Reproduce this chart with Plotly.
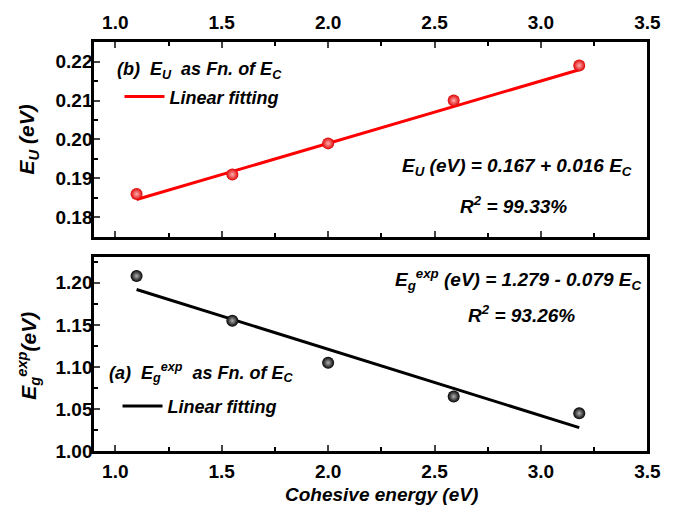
import plotly.graph_objects as go
from plotly.subplots import make_subplots

# Data
ec = [1.10, 1.55, 2.00, 2.59, 3.18]
eu = [0.186, 0.191, 0.199, 0.210, 0.219]
eg = [1.208, 1.155, 1.105, 1.065, 1.045]
fit_x = [1.10, 3.18]
eu_fit = [0.1846, 0.2179]
eg_fit = [1.192, 1.028]

x_ticks = [1.0, 1.5, 2.0, 2.5, 3.0, 3.5]
eu_ticks = [0.18, 0.19, 0.20, 0.21, 0.22]
eg_ticks = [1.00, 1.05, 1.10, 1.15, 1.20]

W, H = 678, 520


def fx(p):
    return p / W


def fy(p):
    return 1 - p / H


FONT = "Liberation Sans, Arial, sans-serif"
tickfont = dict(family=FONT, size=19, color="black", weight="bold")
bifont = dict(family=FONT, size=19, color="black", weight="bold", style="italic")

fig = make_subplots(rows=2, cols=1)

fig.add_trace(go.Scatter(x=fit_x, y=eu_fit, mode="lines", name="Linear fitting",
                         line=dict(color="#ff0000", width=3), legend="legend"), row=1, col=1)
fig.add_trace(go.Scatter(x=ec, y=eu, mode="markers", showlegend=False,
                         marker=dict(size=12, color="#e00000", line=dict(width=0),
                                     gradient=dict(type="radial", color="#ffb0b0"))), row=1, col=1)
fig.add_trace(go.Scatter(x=fit_x, y=eg_fit, mode="lines", name="Linear fitting",
                         line=dict(color="black", width=3), legend="legend2"), row=2, col=1)
fig.add_trace(go.Scatter(x=ec, y=eg, mode="markers", showlegend=False,
                         marker=dict(size=12, color="#000000", line=dict(width=0),
                                     gradient=dict(type="radial", color="#b0b0b0"))), row=2, col=1)

common_x = dict(range=[0.9, 3.5], tickvals=x_ticks, tickformat=".1f", ticks="inside",
                ticklen=6, tickwidth=2, linecolor="black", linewidth=2.5, showgrid=False,
                zeroline=False, tickfont=tickfont, domain=[fx(96), fx(661)],
                minor=dict(dtick=0.25, ticks="inside", ticklen=4, tickwidth=2, tickcolor="black"))
fig.update_xaxes(**common_x, side="top", mirror="ticks", ticklabelstandoff=3, row=1, col=1)
fig.update_xaxes(**common_x, side="bottom", mirror=True, ticklabelstandoff=1, row=2, col=1)

common_y = dict(ticks="inside", ticklen=6, tickwidth=2, linecolor="black", linewidth=2.5,
                showgrid=False, zeroline=False, tickfont=tickfont, mirror=True, tickformat=".2f",
                ticklabelstandoff=-5)
fig.update_yaxes(**common_y, range=[0.175, 0.225], tickvals=eu_ticks,
                 minor=dict(dtick=0.005, ticks="inside", ticklen=4, tickwidth=2, tickcolor="black"),
                 domain=[fy(242), fy(43)], row=1, col=1)
fig.update_yaxes(**common_y, range=[1.0, 1.23], tickvals=eg_ticks,
                 minor=dict(dtick=0.025, ticks="inside", ticklen=4, tickwidth=2, tickcolor="black"),
                 domain=[fy(461), fy(263)], row=2, col=1)

titlefont = dict(bifont, size=21)


def note(x, y, text, font, anchor="center", angle=0):
    fig.add_annotation(xref="paper", yref="paper", x=fx(x), y=fy(y), text=text,
                       showarrow=False, font=font, xanchor=anchor, yanchor="middle",
                       textangle=angle)


# axis titles
note(390, 505, "Cohesive energy (eV)", bifont)
note(29, 142, "E<sub>U</sub> (eV)", titlefont, angle=-90)
note(29, 363, "E<sub>g</sub><sup>exp</sup>(eV)", titlefont, angle=-90)

# fit equations
note(528, 171, "E<sub>U</sub> (eV) = 0.167 + 0.016 E<sub>C</sub>", bifont)
note(524, 209, "R<sup>2</sup> = 99.33%", bifont)
note(529, 286, "E<sub>g</sub><sup>exp</sup> (eV) = 1.279 - 0.079 E<sub>C</sub>", bifont)
note(532, 321, "R<sup>2</sup> = 93.26%", bifont)

# legend titles
legtitlefont = dict(bifont, size=18)
note(117, 72, "(b)  E<sub>U</sub>  as Fn. of E<sub>C</sub>", legtitlefont, anchor="left")
note(109, 381, "(a)  E<sub>g</sub><sup>exp</sup>  as Fn. of E<sub>C</sub>", legtitlefont, anchor="left")

legfont = dict(family=FONT, size=18, color="black", weight="bold", style="italic")
fig.update_layout(
    width=W, height=H,
    margin=dict(l=0, r=0, t=0, b=0),
    paper_bgcolor="white", plot_bgcolor="white",
    legend=dict(x=fx(122), y=fy(99), xanchor="left", yanchor="middle",
                bgcolor="rgba(0,0,0,0)", font=legfont, itemwidth=40),
    legend2=dict(x=fx(120), y=fy(415), xanchor="left", yanchor="middle",
                 bgcolor="rgba(0,0,0,0)", font=legfont, itemwidth=40),
)

fig.write_html("out.html")
